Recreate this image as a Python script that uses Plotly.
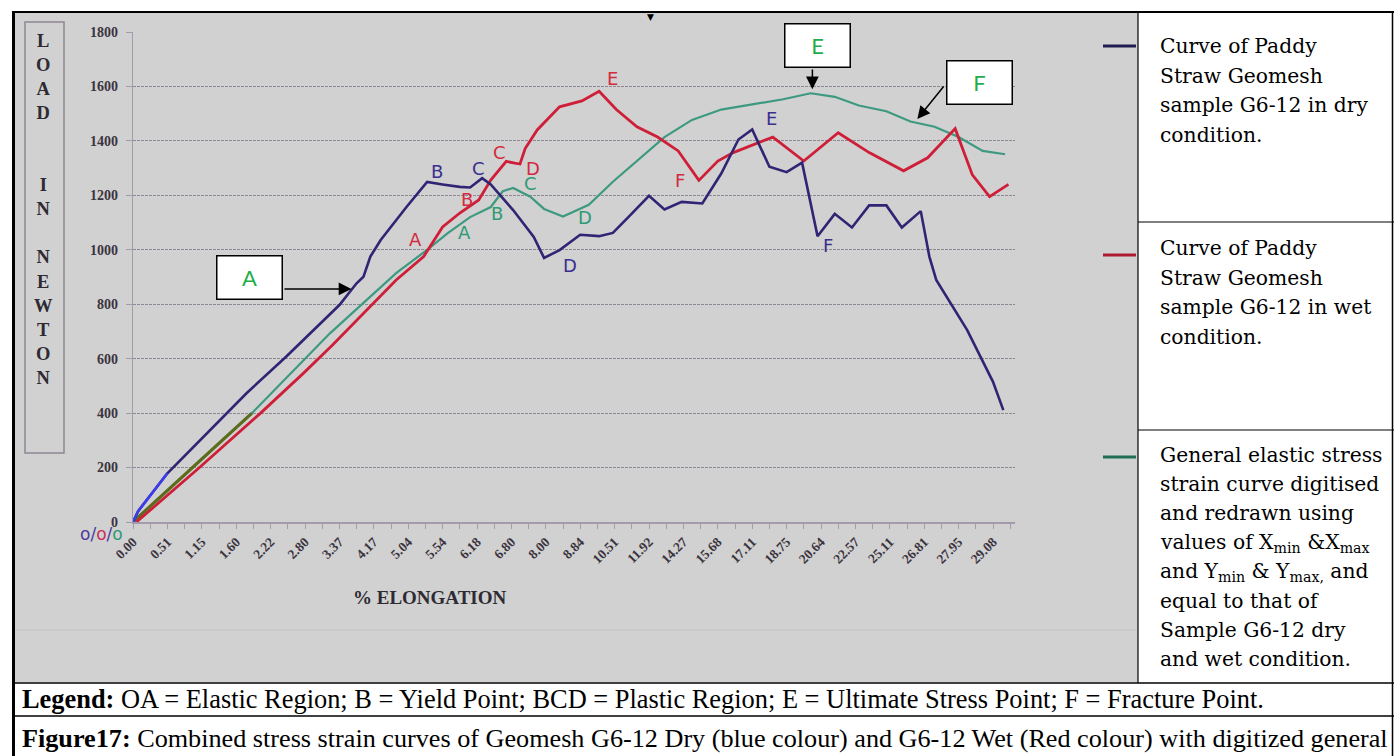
import plotly.graph_objects as go

W, H = 1394, 756

# ---- data -------------------------------------------------------------
# % elongation labels, one for every second reading on the category axis
elong_labels = ["0.00", "0.51", "1.15", "1.60", "2.22", "2.80", "3.37", "4.17",
                "5.04", "5.54", "6.18", "6.80", "8.00", "8.84", "10.51", "11.92",
                "14.27", "15.68", "17.11", "18.75", "20.64", "22.57", "25.11",
                "26.81", "27.95", "29.08"]
n_readings = 52
load_ticks = list(range(0, 1801, 200))

# G6-12 dry (reading position, load in N)
dry_pos = [0, 0.3, 2.0, 3.9, 6.6, 8.9, 11.1, 12.0, 13.0, 13.4, 13.8, 14.4, 15.9,
           17.1, 18.0, 19.0, 19.6, 20.3, 20.8, 22.1, 23.3, 23.9, 24.8, 26.0, 27.1,
           27.9, 28.8, 30.0, 30.9, 31.9, 33.1, 34.2, 35.2, 36.0, 37.0, 38.0, 38.9,
           39.8, 40.8, 41.8, 42.8, 43.8, 44.7, 45.8, 46.3, 46.7, 48.5, 50.0, 50.6]
dry_load = [0, 40, 179, 301, 473, 607, 742, 797, 877, 901, 975, 1036, 1157,
            1249, 1240, 1231, 1229, 1263, 1240, 1146, 1047, 970, 999, 1055, 1050,
            1062, 1120, 1198, 1148, 1176, 1170, 1280, 1405, 1442, 1305, 1285, 1320,
            1050, 1132, 1082, 1163, 1163, 1082, 1142, 975, 889, 705, 515, 411]

# G6-12 wet
wet_pos = [0.2, 3.7, 7.4, 9.9, 11.6, 13.4, 15.3, 16.9, 18.0, 19.0, 20.1, 20.8,
           21.7, 22.2, 22.5, 22.8, 23.5, 24.8, 26.1, 27.1, 28.1, 29.3, 30.5, 31.7,
           32.9, 34.0, 34.9, 37.2, 39.0, 41.0, 42.8, 44.8, 46.2, 47.8, 48.8, 49.8,
           50.9]
wet_load = [0, 191, 399, 546, 650, 767, 889, 975, 1084, 1135, 1183, 1256,
            1325, 1318, 1315, 1372, 1440, 1525, 1547, 1582, 1515, 1452, 1414, 1363,
            1255, 1326, 1357, 1414, 1326, 1430, 1357, 1290, 1338, 1445, 1275, 1195,
            1240]

gen_pos = [0, 6.9, 11.45, 15.3, 17.1, 18.3, 19.6, 20.8, 21.5, 22.1, 23.1, 23.9,
           25.0, 26.5, 27.9, 29.3, 30.9, 32.5, 34.2, 36.0, 37.8, 39.4, 40.8, 42.2,
           43.8, 45.2, 46.6, 48.0, 49.4, 50.7]
gen_load = [0, 399, 693, 914, 1000, 1061, 1120, 1157, 1215, 1227, 1195, 1150,
            1122, 1165, 1250, 1326, 1414, 1477, 1515, 1534, 1553, 1575, 1562, 1530,
            1509, 1471, 1452, 1414, 1363, 1351]

NAVY = "#2f2574"
RED = "#cf1f38"
TEAL = "#3d9a80"
GREEN_TXT = "#1fae4b"
GRID = "#8f8794"
AXIS = "#a39bab"
PANEL = "#d1d1d1"
SERIF = "Liberation Serif"
WIDE_SERIF = "DejaVu Serif"


def px(x):
    return x / W


def py(y):
    return 1 - y / H


fig = go.Figure()

fig.add_trace(go.Scatter(x=gen_pos, y=gen_load, mode="lines",
                         line=dict(color=TEAL, width=2.2), showlegend=False))
fig.add_trace(go.Scatter(x=gen_pos[:2], y=gen_load[:2], mode="lines",
                         line=dict(color="#5c6b1c", width=3.2), showlegend=False))
fig.add_trace(go.Scatter(x=wet_pos, y=wet_load, mode="lines",
                         line=dict(color=RED, width=2.8), showlegend=False))
fig.add_trace(go.Scatter(x=dry_pos, y=dry_load, mode="lines",
                         line=dict(color=NAVY, width=2.6), showlegend=False))
fig.add_trace(go.Scatter(x=dry_pos[:3], y=dry_load[:3], mode="lines",
                         line=dict(color="#3c3cf0", width=2.6), showlegend=False))

x_left, x_right = 133, 1015
cat_px = 17.2
tickvals = list(range(n_readings))
ticktext = [elong_labels[i // 2] if i % 2 == 0 else " " for i in tickvals]

fig.update_layout(
    width=W, height=H,
    margin=dict(l=0, r=0, t=0, b=0),
    paper_bgcolor="white",
    plot_bgcolor="rgba(0,0,0,0)",
    xaxis=dict(domain=[px(x_left), px(x_right)],
               range=[0, (x_right - x_left) / cat_px],
               tickmode="array", tickvals=tickvals, ticktext=ticktext,
               tickangle=-45, ticks="outside", ticklen=5, tickcolor=AXIS,
               showline=True, linecolor=AXIS, linewidth=1.5,
               showgrid=False, zeroline=False, automargin=False,
               tickfont=dict(family=SERIF, size=13.5, color="#3b3440", weight="bold")),
    yaxis=dict(domain=[py(522), py(32)], range=[0, 1800],
               tickmode="array", tickvals=load_ticks,
               ticks="outside", ticklen=6, tickcolor=AXIS,
               showline=True, linecolor=AXIS, linewidth=1.2,
               showgrid=True, gridcolor=GRID, gridwidth=1, griddash="3px,1px",
               zeroline=False, automargin=False, ticklabelstandoff=5,
               tickfont=dict(family=SERIF, size=14, color="#3b3440", weight="bold")),
)

shapes = []
# grey chart panel and white legend table
shapes.append(dict(type="rect", xref="paper", yref="paper", layer="below",
                   x0=px(14), x1=px(1138), y0=py(682), y1=py(13),
                   fillcolor=PANEL, line=dict(width=0)))
shapes.append(dict(type="line", xref="paper", yref="paper", layer="below",
                   x0=px(16), x1=px(1136), y0=py(630), y1=py(630),
                   line=dict(color="#c4c4c4", width=1)))
# box around the vertical axis title
shapes.append(dict(type="rect", xref="paper", yref="paper", layer="below",
                   x0=px(25), x1=px(64), y0=py(453), y1=py(22),
                   line=dict(color="#8d8793", width=1.5)))
# outer frame and rows
frame = dict(color="black", width=1.5)
shapes += [
    dict(type="line", xref="paper", yref="paper", x0=px(12), x1=px(1394), y0=py(12), y1=py(12), line=dict(color="black", width=2.2)),
    dict(type="line", xref="paper", yref="paper", x0=px(13.5), x1=px(13.5), y0=py(12), y1=py(756), line=dict(color="black", width=3)),
    dict(type="line", xref="paper", yref="paper", x0=px(1392.5), x1=px(1392.5), y0=py(12), y1=py(756), line=frame),
    dict(type="line", xref="paper", yref="paper", x0=px(12), x1=px(1394), y0=py(683), y1=py(683), line=frame),
    dict(type="line", xref="paper", yref="paper", x0=px(12), x1=px(1394), y0=py(716), y1=py(716), line=frame),
    dict(type="line", xref="paper", yref="paper", x0=px(1138), x1=px(1138), y0=py(12), y1=py(683), line=dict(color="black", width=1.2)),
    dict(type="line", xref="paper", yref="paper", x0=px(1138), x1=px(1394), y0=py(222), y1=py(222), line=dict(color="black", width=1.2)),
    dict(type="line", xref="paper", yref="paper", x0=px(1138), x1=px(1394), y0=py(430), y1=py(430), line=dict(color="black", width=1.2)),
]
# legend swatches
for yy, col in [(46, "#221c55"), (255, "#b01a30"), (457, "#1f6f55")]:
    shapes.append(dict(type="line", xref="paper", yref="paper",
                       x0=px(1103), x1=px(1136), y0=py(yy), y1=py(yy),
                       line=dict(color=col, width=3)))
fig.update_layout(shapes=shapes)

ann = []


def txt(x, y, s, size, color="black", family=SERIF, xanchor="center", ref="paper", **kw):
    if ref == "paper":
        ann.append(dict(x=px(x), y=py(y), xref="paper", yref="paper", text=s,
                        showarrow=False, xanchor=xanchor, yanchor="middle",
                        font=dict(family=family, size=size, color=color), **kw))
    else:
        ann.append(dict(x=x, y=y, xref="x", yref="y", text=s, showarrow=False,
                        xanchor=xanchor, yanchor="middle",
                        font=dict(family=family, size=size, color=color), **kw))


# vertical axis title
txt(43, 209, "<b>L<br>O<br>A<br>D<br><br><br>I<br>N<br><br>N<br>E<br>W<br>T<br>O<br>N</b>",
    18.5, color="#2e2a33")
txt(430, 597, "<b>% ELONGATION</b>", 19, color="#2e2a33")

# origin marks
txt(101, 534, "<span style='color:#4a3c9c'>o</span><span style='color:#4a3c9c'>/</span>"
    "<span style='color:#c8305a'>o</span><span style='color:#4a3c9c'>/</span>"
    "<span style='color:#2f9a74'>o</span>", 17, family="DejaVu Sans")

# point letters on the curves (reading position, load)
LF = "DejaVu Sans"
for s, x, y in [("B", 17.7, 1286), ("C", 20.06, 1300), ("D", 25.4, 944),
                ("E", 37.15, 1484), ("F", 40.4, 1014)]:
    txt(x, y, s, 18, color="#3b2f8e", family=LF, ref="data")
for s, x, y in [("A", 16.4, 1036), ("B", 19.4, 1183), ("C", 21.3, 1356),
                ("D", 23.26, 1300), ("E", 27.85, 1631), ("F", 31.8, 1256)]:
    txt(x, y, s, 18, color="#d42a3f", family=LF, ref="data")
for s, x, y in [("A", 19.3, 1062), ("B", 21.16, 1135), ("C", 23.1, 1245),
                ("D", 26.3, 1117)]:
    txt(x, y, s, 18, color="#2f9a74", family=LF, ref="data")

# call-out boxes
for s, cx, cy in [("A", 249, 278), ("E", 817, 45), ("F", 979, 83)]:
    ann.append(dict(x=px(cx), y=py(cy), xref="paper", yref="paper", text=s,
                    showarrow=False, xanchor="center", yanchor="middle",
                    width=62, height=40, bgcolor="white", bordercolor="black",
                    borderwidth=1.5, borderpad=1,
                    font=dict(family="Lato", size=22, color=GREEN_TXT)))
# call-out arrows (tail -> tip, in data units)
for (tx, ty), (hx, hy) in [((8.72, 856), (12.7, 856)),
                           ((39.5, 1668), (39.5, 1590)),
                           ((47.2, 1605), (45.6, 1480))]:
    ann.append(dict(x=hx, y=hy, xref="x", yref="y", ax=tx, ay=ty,
                    axref="x", ayref="y", text="", showarrow=True,
                    arrowhead=2, arrowsize=1.7, arrowwidth=1.5, arrowcolor="black"))

# small marker on the top rule
txt(650, 17, "▼", 9, family="DejaVu Sans")

# legend table text
rows = [
    (46, 29.5, ["Curve of Paddy", "Straw Geomesh", "sample G6-12 in dry", "condition."]),
    (248, 29.5, ["Curve of Paddy", "Straw Geomesh", "sample G6-12 in wet", "condition."]),
    (455, 29.2, ["General elastic stress", "strain curve digitised", "and redrawn using",
                 "values of X<sub>min</sub> &X<sub>max</sub>",
                 "and Y<sub>min</sub> & Y<sub>max,</sub> and", "equal to that of",
                 "Sample G6-12 dry", "and wet condition."]),
]
for y0, step, lines in rows:
    for i, s in enumerate(lines):
        txt(1158, y0 + i * step, s, 20.3, xanchor="left", family=WIDE_SERIF)

# caption rows
txt(20, 699, "<b>Legend:</b> OA = Elastic Region; B = Yield Point; BCD = Plastic Region; "
    "E = Ultimate Stress Point; F = Fracture Point.", 26.4, xanchor="left")
txt(20, 738, "<b>Figure17:</b> Combined stress strain curves of Geomesh G6-12 Dry (blue colour) "
    "and G6-12 Wet (Red colour) with digitized general", 26.2, xanchor="left")

fig.update_layout(annotations=ann)
fig.write_html("out.html")
